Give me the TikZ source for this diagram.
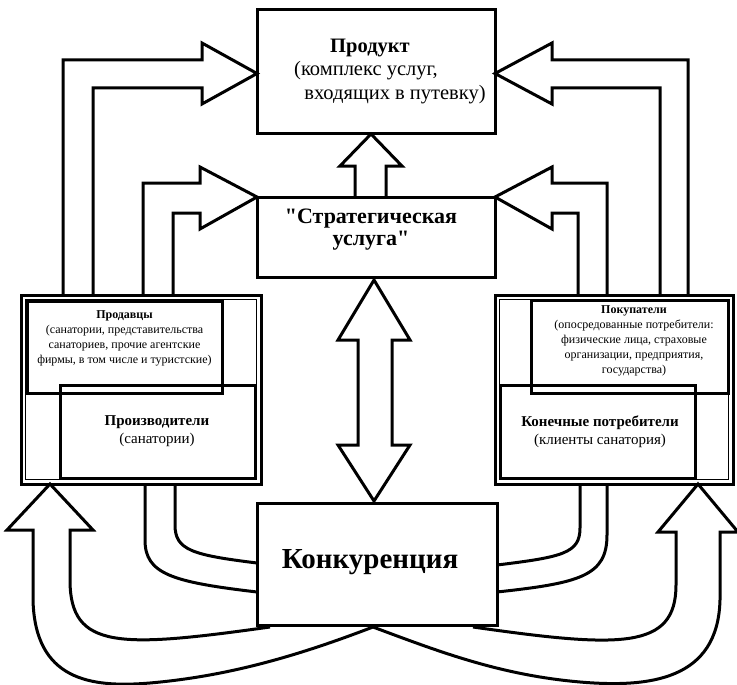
\documentclass[tikz,border=0pt]{standalone}
\usepackage{fontspec}
\setmainfont{Liberation Serif}
\usetikzlibrary{positioning}

\tikzset{
  bigbox/.style={draw, line width=3pt, align=center, inner sep=0pt, outer sep=0pt},
  groupbox/.style={draw, line width=3pt, inner sep=0pt, outer sep=0pt},
  subbox/.style={draw=black, line width=3pt, inner sep=0pt, outer sep=0pt},
  blockarrow/.style={line width=3pt, line join=miter},
  smalltext/.style={align=center, inner sep=0pt, font=\fontsize{12}{15}\selectfont},
  midtext/.style={align=center, inner sep=0pt, font=\fontsize{15}{18}\selectfont}
}

\begin{document}
\begin{tikzpicture}[x=1pt,y=-1pt]
\useasboundingbox (0,0) rectangle (737,685);

% central column
\node[bigbox, minimum width=238pt, minimum height=123pt,
  font=\fontsize{20.5}{23.5}\selectfont] (prod) at (376,71.5)
  {\textbf{Продукт}\hspace*{12pt}\mbox{}\\(комплекс услуг,\hspace*{20pt}\mbox{}\\\hspace*{38pt}входящих в путевку)};
\node[bigbox, minimum width=238pt, minimum height=80pt] (strat) at (376,237) {};
\node[align=center, inner sep=0pt, font=\fontsize{22}{22}\selectfont\bfseries] (strattxt) at (371,230)
  {\textquotedbl Стратегическая\\услуга\textquotedbl};
\node[bigbox, minimum width=240pt, minimum height=122pt] (comp) at (377,564) {};
\node[inner sep=0pt, font=\fontsize{29}{30}\selectfont\bfseries] (comptxt) at (370,562) {Конкуренция};

% left group
\node[groupbox, minimum width=240pt, minimum height=189pt] (leftgrp) at (141,389.5) {};
\draw[line width=0.8pt] ([shift={(4.5,4.5)}]leftgrp.north west) rectangle ([shift={(-4.5,-4.5)}]leftgrp.south east);
\node[subbox, minimum width=195pt, minimum height=92pt] (sellers) at (124.5,347) {};
\node[subbox, minimum width=195pt, minimum height=93pt] (makers) at (157.5,431.5) {};
\node[smalltext] (sellerstxt) at (124.5,338)
  {\textbf{Продавцы}\\(санатории, представительства\\санаториев, прочие агентские\\фирмы, в том числе и туристские)};
\node[midtext] (makerstxt) at (157,431) {\textbf{Производители}\\(санатории)};

% right group
\node[groupbox, minimum width=238pt, minimum height=189pt] (rightgrp) at (614,389.5) {};
\draw[line width=0.8pt] ([shift={(4.5,4.5)}]rightgrp.north west) rectangle ([shift={(-4.5,-4.5)}]rightgrp.south east);
\node[subbox, minimum width=197pt, minimum height=93pt] (buyers) at (629.5,346.5) {};
\node[subbox, minimum width=195pt, minimum height=93pt] (enders) at (597.5,431.5) {};
\node[smalltext] (buyerstxt) at (634,341)
  {\textbf{Покупатели}\\(опосредованные потребители:\\физические лица, страховые\\организации, предприятия,\\государства)};
\node[midtext] (enderstxt) at (600,432) {\textbf{Конечные потребители}\\(клиенты санатория)};

% arrows to the top
\draw[blockarrow] (63,295) -- (63,60) -- (202,60) -- (202,43) -- (257,73.5) -- (202,104) -- (202,88) -- (93,88) -- (93,295);
\draw[blockarrow] (143,295) -- (143,183) -- (200,183) -- (200,167) -- (strat.north west) -- (200,229) -- (200,213) -- (173,213) -- (173,295);
\draw[blockarrow] (688,295) -- (688,60) -- (552,60) -- (552,43) -- (495,73.5) -- (552,104) -- (552,88) -- (660,88) -- (660,295);
\draw[blockarrow] (607,295) -- (607,183) -- (552,183) -- (552,167) -- (strat.north east) -- (552,229) -- (552,213) -- (578,213) -- (578,295);
\draw[blockarrow] (355,197) -- (355,166) -- (340,166) -- (371,134) -- (402,166) -- (386,166) -- (386,197);
\draw[blockarrow] (374,280) -- (410,340) -- (392,340) -- (392,445) -- (410,445) -- (374,501)
  -- (338,445) -- (358,445) -- (358,340) -- (338,340) -- cycle;

% bands into the competition box
\draw[blockarrow] (175,484) -- (175,525) .. controls (175,550) and (192,555) .. (257,563);
\draw[blockarrow] (145,484) -- (145,540) .. controls (145,574) and (172,582) .. (257,592);
\draw[blockarrow] (580,484) -- (580,528) .. controls (580,553) and (563,557) .. (497,565);
\draw[blockarrow] (607,484) -- (607,535) .. controls (607,576) and (580,583) .. (497,592);

% big arrows from the competition box
\draw[blockarrow] (270,627) .. controls (120,648) and (70,650) .. (70,580) -- (70,530) -- (93,530)
  -- (50,484) -- (7,530) -- (33,530) -- (33,600) .. controls (35,680) and (90,688) .. (150,683)
  .. controls (230,676) and (300,655) .. (373,627);
\draw[blockarrow] (473,627) .. controls (620,648) and (676,650) .. (676,585) -- (676,532) -- (658,532)
  -- (698,484) -- (738,532) -- (720,532) -- (720,600) .. controls (718,680) and (650,688) .. (580,682)
  .. controls (500,675) and (440,652) .. (373,627);
\end{tikzpicture}
\end{document}
